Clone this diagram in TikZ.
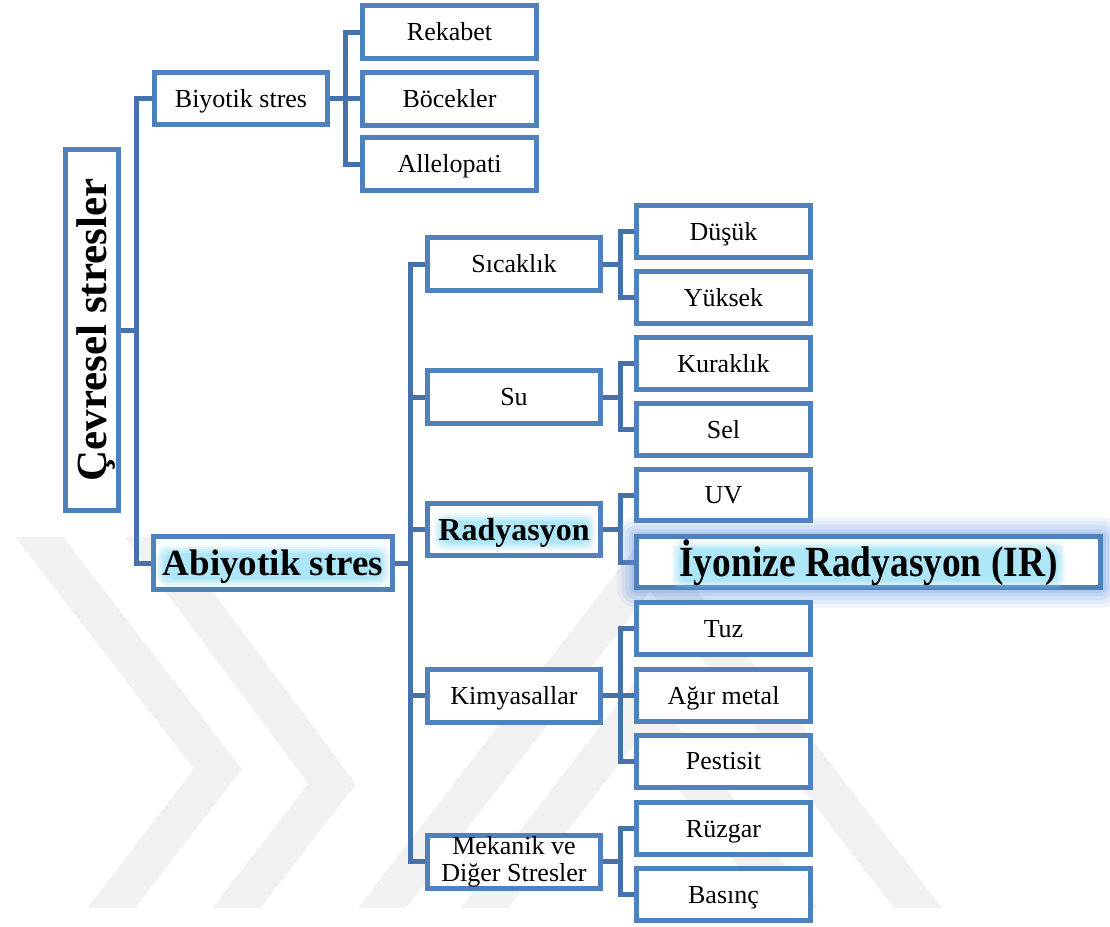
\documentclass[tikz,border=0pt]{standalone}
\usepackage{fontspec}
\usepackage{graphicx}
\setmainfont{Liberation Serif}
\usetikzlibrary{calc}
\pgfdeclarelayer{bg}
\pgfsetlayers{bg,main}
\definecolor{bx}{RGB}{79,129,189}
\definecolor{cn}{RGB}{70,114,172}
\definecolor{glowc}{RGB}{140,222,245}
\definecolor{boxglow}{RGB}{100,150,225}
\definecolor{wm}{RGB}{241,241,241}
\tikzset{
  box/.style={draw=bx, line width=5pt, fill=white, inner sep=0pt,
    minimum width=174pt, minimum height=53pt, align=center,
    font=\fontsize{26}{27}\selectfont},
  one/.style={text height=17pt, text depth=0pt},
  conn/.style={draw=cn, line width=5pt},
  wmband/.style={draw=wm, line width=38pt, line join=miter},
  glowbox/.style={
    preaction={draw=boxglow, draw opacity=0.09, line width=40pt, line join=round},
    preaction={draw=boxglow, draw opacity=0.11, line width=32pt, line join=round},
    preaction={draw=boxglow, draw opacity=0.13, line width=24pt, line join=round},
    preaction={draw=boxglow, draw opacity=0.15, line width=16pt, line join=round},
    preaction={draw=boxglow, draw opacity=0.17, line width=10pt, line join=round}},
}
% soft cyan halo behind a bold label: centre, half width, half height
\newcommand{\halo}[3]{%
  \foreach \ee/\oo in {7/0.12,5/0.16,3/0.2,1/0.26,-1/0.32}{%
    \fill[glowc, opacity=\oo, rounded corners=9pt]
      ($(#1)+(-#2-\ee,-#3-\ee)$) rectangle ($(#1)+(#2+\ee,#3+\ee)$);%
  }%
}
\begin{document}
\begin{tikzpicture}[x=1pt,y=-1pt]
\useasboundingbox (0,0) rectangle (1110,926);

% watermark
\begin{pgfonlayer}{bg}
\begin{scope}
\clip (0,537) rectangle (1110,907);
\draw[wmband] (0.5,487) -- (218,769) -- (73.5,957);
\draw[wmband] (111.5,487) -- (332,784) -- (198.5,957);
\draw[wmband] (344.3,957) -- (650,560) -- (955.7,957);
\draw[wmband] (446.5,957) -- (639,707) -- (831.5,957);
\end{scope}
\end{pgfonlayer}

% trunk positions
\coordinate (t0) at (136,0);
\coordinate (t1) at (345,0);
\coordinate (t2) at (410,0);
\coordinate (t3) at (620,0);

% root
\node[box, minimum width=53pt, minimum height=361pt] (root) at (92,330) {};
\node[rotate=90, inner sep=0pt, font=\bfseries\fontsize{43}{43}\selectfont,
  text height=28.4pt, text depth=0pt] (rootT) at (root.center) {Çevresel stresler};

% biotic
\node[box, one, minimum width=173pt, minimum height=52pt] (bio) at (241,98.5) {Biyotik stres};
\node[box, one] (rek) at (449.5,32) {Rekabet};
\node[box, one] (boc) at (449.5,98.5) {Böcekler};
\node[box, one] (all) at (449.5,164) {Allelopati};

% abiotic
\node[box, minimum width=239pt] (abio) at (273,563) {};
\coordinate (abioG) at (273,566);
\halo{abioG}{110}{14}
\node[inner sep=0pt, font=\bfseries\fontsize{37}{37}\selectfont, text height=24.4pt, text depth=0pt] (abioT) at (abio) {Abiyotik stres};

\node[box, one, minimum width=173pt] (sic) at (514,264) {Sıcaklık};
\node[box, one, minimum width=173pt] (su) at (514,397) {Su};
\node[box, minimum width=173pt, minimum height=52pt] (rad) at (514,529.5) {};
\coordinate (radG) at (515,532);
\halo{radG}{74}{12}
\node[inner sep=0pt, font=\bfseries\fontsize{32}{32}\selectfont, text height=21.1pt, text depth=0pt] (radT) at (rad) {Radyasyon};
\node[box, one, minimum width=173pt] (kim) at (514,695.5) {Kimyasallar};
\node[box, minimum width=173pt] (mek) at (514,861.5) {Mekanik ve\\Diğer Stresler};

\node[box, one, minimum height=52pt] (dus) at (723.5,231.5) {Düşük};
\node[box, one, minimum height=52pt] (yuk) at (723.5,297.5) {Yüksek};
\node[box, one, minimum height=52pt] (kur) at (723.5,363.5) {Kuraklık};
\node[box, one, minimum height=52pt] (sel) at (723.5,429.5) {Sel};
\node[box, one, minimum height=51pt] (uv) at (723.5,495) {UV};
\node[box, glowbox, minimum width=464pt, minimum height=51pt] (ir) at (868.5,562) {};
\coordinate (irG) at (868.5,565);
\halo{irG}{190}{17}
\node[inner sep=0pt, font=\bfseries\fontsize{43}{43}\selectfont, text height=28.4pt, text depth=0pt] (irT) at (ir) {\scalebox{0.87}[1]{İyonize Radyasyon (IR)}};
\node[box, one, minimum height=52pt] (tuz) at (723.5,628.5) {Tuz};
\node[box, one, minimum height=52pt] (agir) at (723.5,695.5) {Ağır metal};
\node[box, one, minimum height=52pt] (pes) at (723.5,761) {Pestisit};
\node[box, one, minimum height=52pt] (ruz) at (723.5,828.5) {Rüzgar};
\node[box, one, minimum height=52pt] (bas) at (723.5,894.5) {Basınç};

% connectors
\begin{pgfonlayer}{bg}
\draw[conn] (root.east) -- (root.east -| t0);
\draw[conn] (bio.west) -| (t0 |- abio.west) -- (abio.west);

\draw[conn] (bio.east) -- (boc.west);
\draw[conn] (rek.west) -| (t1 |- all.west) -- (all.west);

\draw[conn] (abio.east) -- (abio.east -| t2);
\draw[conn] (sic.west) -| (t2 |- mek.west) -- (mek.west);
\draw[conn] (su.west) -- (su.west -| t2);
\draw[conn] (rad.west) -- (rad.west -| t2);
\draw[conn] (kim.west) -- (kim.west -| t2);

\draw[conn] (sic.east) -- (sic.east -| t3);
\draw[conn] (dus.west) -| (t3 |- yuk.west) -- (yuk.west);
\draw[conn] (su.east) -- (su.east -| t3);
\draw[conn] (kur.west) -| (t3 |- sel.west) -- (sel.west);
\draw[conn] (rad.east) -- (rad.east -| t3);
\draw[conn] (uv.west) -| (t3 |- ir.west) -- (ir.west);
\draw[conn] (kim.east) -- (agir.west);
\draw[conn] (tuz.west) -| (t3 |- pes.west) -- (pes.west);
\draw[conn] (mek.east) -- (mek.east -| t3);
\draw[conn] (ruz.west) -| (t3 |- bas.west) -- (bas.west);
\end{pgfonlayer}
\end{tikzpicture}
\end{document}
